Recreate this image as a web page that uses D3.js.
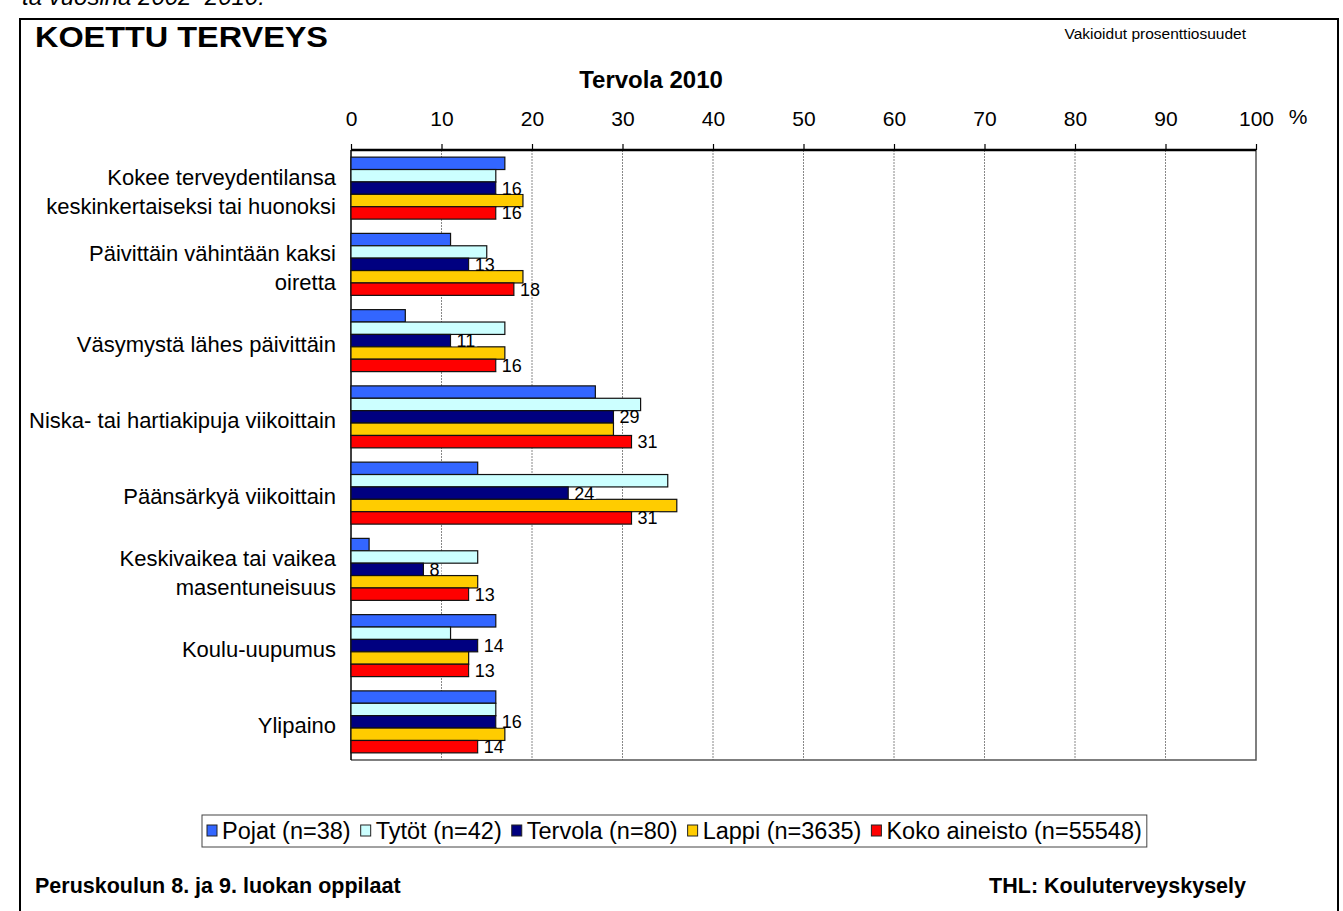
<!DOCTYPE html>
<html lang="fi">
<head>
  <meta charset="UTF-8">
  <title>Koettu terveys</title>
  <script src="https://cdn.jsdelivr.net/npm/d3@7"></script>
  <style>
    body { margin: 0; background: #fff; }
    svg { display: block; font-family: "Liberation Sans", Arial, sans-serif; }
  </style>
</head>
<body>
<svg id="chart" width="1343" height="911"></svg>
<script>
  // categories (label lines) and series
  var categories = [
    ["Kokee terveydentilansa", "keskinkertaiseksi tai huonoksi"],
    ["Päivittäin vähintään kaksi", "oiretta"],
    ["Väsymystä lähes päivittäin"],
    ["Niska- tai hartiakipuja viikoittain"],
    ["Päänsärkyä viikoittain"],
    ["Keskivaikea tai vaikea", "masentuneisuus"],
    ["Koulu-uupumus"],
    ["Ylipaino"]
  ];
  var seriesNames = ["Pojat (n=38)", "Tytöt (n=42)", "Tervola (n=80)", "Lappi (n=3635)", "Koko aineisto (n=55548)"];
  var seriesColors = ["#3366ff", "#ccffff", "#000080", "#ffcc00", "#ff0000"];
  var showLabels = [false, false, true, false, true];

  var pojat   = [17, 11, 6, 27, 14, 2, 16, 16];
  var tytot   = [16, 15, 17, 32, 35, 14, 11, 16];
  var tervola = [16, 13, 11, 29, 24, 8, 14, 16];
  var lappi   = [19, 19, 17, 29, 36, 14, 13, 17];
  var koko    = [16, 18, 16, 31, 31, 13, 13, 14];
  var allSeries = [pojat, tytot, tervola, lappi, koko];

  var xTicks = [0, 10, 20, 30, 40, 50, 60, 70, 80, 90, 100];

  (function() {
  var svg = d3.select("#chart");
  var pLeft = 351, pRight = 1256, pTop = 150, pBottom = 760;

  var x = d3.scaleLinear().domain([0, 100]).range([pLeft, pRight]);
  var y0 = d3.scaleBand().domain(d3.range(categories.length)).range([pTop, pBottom]);
  var y1 = d3.scaleBand().domain(d3.range(seriesNames.length))
    .range([0, y0.bandwidth()]).paddingOuter(0.575);

  // outer frame + cut-off text above it
  svg.append("text").attr("x", 22).attr("y", 5)
    .style("font-size", "24px").style("font-style", "italic")
    .text("ta vuosina 2002–2010.");
  svg.append("rect").attr("x", 20).attr("y", 19).attr("width", 1318).attr("height", 920)
    .attr("fill", "none").attr("stroke", "#000").attr("stroke-width", 2);

  svg.append("text").attr("x", 35).attr("y", 47)
    .attr("textLength", 293).attr("lengthAdjust", "spacingAndGlyphs")
    .style("font-size", "29px").style("font-weight", "bold")
    .text("KOETTU TERVEYS");
  svg.append("text").attr("x", 1246).attr("y", 39).attr("text-anchor", "end")
    .style("font-size", "15.5px")
    .text("Vakioidut prosenttiosuudet");
  svg.append("text").attr("x", 651).attr("y", 88).attr("text-anchor", "middle")
    .style("font-size", "24px").style("font-weight", "bold")
    .text("Tervola 2010");

  // grid
  svg.append("g").selectAll("line").data(xTicks.slice(1, -1)).join("line")
    .attr("x1", d => x(d)).attr("x2", d => x(d))
    .attr("y1", pTop).attr("y2", pBottom)
    .attr("stroke", "#888").attr("stroke-dasharray", "2,1");

  // plot border right/bottom
  svg.append("path")
    .attr("d", "M" + pLeft + "," + pBottom + "H" + pRight + "V" + pTop)
    .attr("fill", "none").attr("stroke", "#555").attr("stroke-width", 1.5);

  // top axis
  var axis = svg.append("g").attr("transform", "translate(0," + pTop + ")")
    .call(d3.axisTop(x).tickValues(xTicks).tickSize(6).tickPadding(18).tickFormat(d3.format("d")));
  axis.select(".domain").attr("stroke-width", 2.5).attr("d", "M" + pLeft + ",0H" + pRight);
  axis.selectAll(".tick line").attr("stroke-width", 1.2);
  axis.selectAll("text").style("font-size", "21px")
    .style("font-family", "'Liberation Sans', Arial, sans-serif").attr("fill", "#000");
  svg.append("text").attr("x", 1298).attr("y", 124).attr("text-anchor", "middle")
    .style("font-size", "21px").text("%");

  // left axis line
  svg.append("line").attr("x1", pLeft).attr("x2", pLeft).attr("y1", pTop).attr("y2", pBottom)
    .attr("stroke", "#000").attr("stroke-width", 1.5);

  // bars
  var groups = svg.append("g").selectAll("g").data(categories).join("g")
    .attr("transform", (d, i) => "translate(0," + y0(i) + ")");

  allSeries.forEach(function(vals, s) {
    groups.append("rect")
      .attr("x", pLeft)
      .attr("y", y1(s))
      .attr("width", (d, i) => x(vals[i]) - pLeft)
      .attr("height", y1.bandwidth())
      .attr("fill", seriesColors[s])
      .attr("stroke", "#111").attr("stroke-width", 1.2);
  });

  // value labels with white backing
  allSeries.forEach(function(vals, s) {
    if (!showLabels[s]) return;
    groups.each(function(d, i) {
      var g = d3.select(this);
      var t = g.append("text")
        .attr("x", x(vals[i]) + 6)
        .attr("y", y1(s) + y1.bandwidth() / 2 + 6.5)
        .style("font-size", "18px")
        .text(vals[i]);
      var bb = t.node().getBBox();
      g.insert("rect", function() { return t.node(); })
        .attr("x", x(vals[i]) + 1).attr("y", y1(s) + 1)
        .attr("width", bb.x + bb.width + 1 - x(vals[i])).attr("height", y1.bandwidth() - 1.5)
        .attr("fill", "#fff");
    });
  });

  // category labels
  groups.each(function(lines) {
    var g = d3.select(this);
    var c = y0.bandwidth() / 2;
    lines.forEach(function(line, k) {
      g.append("text")
        .attr("x", 336)
        .attr("y", c + (k - (lines.length - 1) / 2) * 29 + 11)
        .attr("text-anchor", "end")
        .style("font-size", "22px")
        .text(line);
    });
  });

  // legend
  var legend = svg.append("g");
  var lx = 207, ly = 831;
  seriesNames.forEach(function(name, s) {
    legend.append("rect").attr("x", lx).attr("y", ly - 6).attr("width", 10).attr("height", 11)
      .attr("fill", seriesColors[s]).attr("stroke", "#222");
    var t = legend.append("text").attr("x", lx + 15).attr("y", ly + 8)
      .style("font-size", "23.5px").text(name);
    lx += 15 + t.node().getComputedTextLength() + 10;
  });
  legend.insert("rect", ":first-child").attr("x", 202).attr("y", 815)
    .attr("width", lx - 202 - 5).attr("height", 32)
    .attr("fill", "#fff").attr("stroke", "#444");

  // footer
  svg.append("text").attr("x", 35).attr("y", 893)
    .style("font-size", "21.5px").style("font-weight", "bold")
    .text("Peruskoulun 8. ja 9. luokan oppilaat");
  svg.append("text").attr("x", 1246).attr("y", 893).attr("text-anchor", "end")
    .style("font-size", "21.5px").style("font-weight", "bold")
    .text("THL: Kouluterveyskysely");
  })();
</script>
</body>
</html>
